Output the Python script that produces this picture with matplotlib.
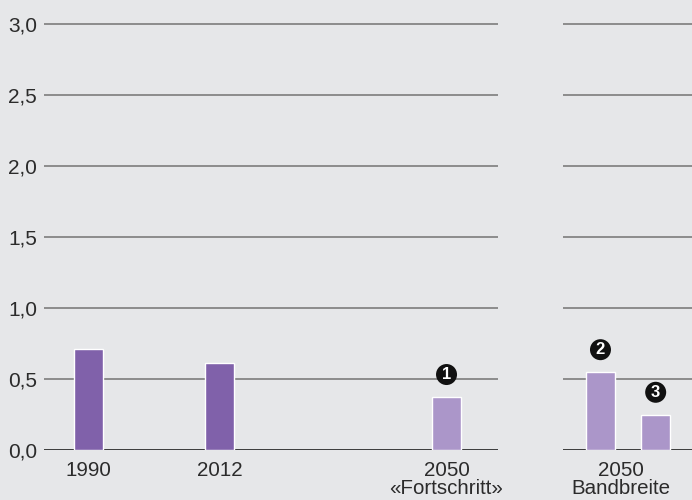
import matplotlib
matplotlib.use("Agg")
import matplotlib.pyplot as plt

# Data
left_labels = ["1990", "2012", "2050\n«Fortschritt»"]
left_values = [0.71, 0.61, 0.375]
left_badges = [None, None, "1"]
right_label = "2050\nBandbreite"
right_values = [0.55, 0.25]
right_badges = ["2", "3"]
yticks = [0.0, 0.5, 1.0, 1.5, 2.0, 2.5, 3.0]
ytick_labels = ["0,0", "0,5", "1,0", "1,5", "2,0", "2,5", "3,0"]

BG = "#e6e7e9"
DARK = "#8061aa"
LIGHT = "#ab96c9"
GRID = "#858585"
AXIS = "#2e2e2e"
TXT = "#2b2b2b"

plt.rcParams['font.family'] = ['Liberation Sans', 'DejaVu Sans']

W, H = 692, 500
fig = plt.figure(figsize=(W / 100, H / 100), dpi=100)
fig.patch.set_facecolor(BG)

ytop = 3.05
y0_px = 450.0
px_per_unit = (450.0 - 24.0) / 3.0
ax_h_px = ytop * px_per_unit


def make_ax(x0, x1):
    ax = fig.add_axes([x0 / W, (H - y0_px) / H, (x1 - x0) / W, ax_h_px / H])
    ax.set_facecolor("none")
    ax.set_ylim(0, ytop)
    for s in ax.spines.values():
        s.set_visible(False)
    for y in yticks[1:]:
        ax.axhline(y, color=GRID, lw=1.3, zorder=1)
    ax.axhline(0, color=AXIS, lw=1.3, zorder=3)
    ax.tick_params(length=0)
    return ax


def badge(ax, x, y, t):
    ax.annotate(t, (x, y), xytext=(0, 16), textcoords="offset points",
                ha="center", va="center", fontsize=12, fontweight="bold",
                color="white", zorder=5,
                bbox=dict(boxstyle="circle,pad=0.18", fc="#111111", ec="none"))


# Left panel
axL = make_ax(44, 498)
posL = [0, 1, 2.733]
axL.set_xlim(-0.34, 3.126)
colorsL = [DARK, DARK, LIGHT]
axL.bar(posL, left_values, width=0.225, color=colorsL, edgecolor="white",
        linewidth=1.0, zorder=4)
for x, v, b in zip(posL, left_values, left_badges):
    if b:
        badge(axL, x, v, b)
axL.set_xticks(posL)
axL.set_xticklabels(left_labels, fontsize=14.8, color=TXT, linespacing=0.95)
axL.tick_params(axis="x", pad=8)
axL.set_yticks(yticks)
axL.set_yticklabels(ytick_labels, fontsize=15, color=TXT)
axL.tick_params(axis="y", pad=5)

# Right panel
axR = make_ax(563, 692)
posR = [0, 1]
axR.set_xlim(-0.679, 1.658)
axR.bar(posR, right_values, width=0.534, color=LIGHT, edgecolor="white",
        linewidth=1.0, zorder=4)
for x, v, b in zip(posR, right_values, right_badges):
    badge(axR, x, v, b)
axR.set_xticks([0.37])
axR.set_xticklabels([right_label], fontsize=14.8, color=TXT, linespacing=0.95)
axR.tick_params(axis="x", pad=8)
axR.set_yticks([])

fig.savefig("out.png", dpi=100, facecolor=BG)
